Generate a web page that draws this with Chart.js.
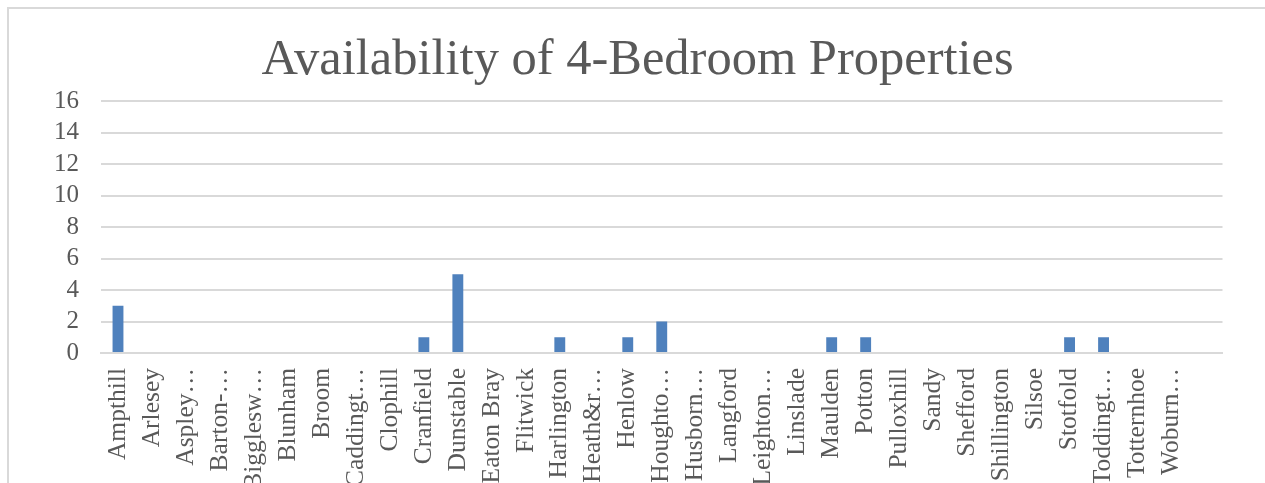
<!DOCTYPE html>
<html>
<head>
<meta charset="utf-8">
<title>Availability of 4-Bedroom Properties</title>
<script src="https://cdn.jsdelivr.net/npm/chart.js@4.4.0/dist/chart.umd.min.js"></script>
<style>
  body { margin: 0; overflow: hidden; background: #fff; }
  #frame { position: absolute; left: 7px; top: 7px; width: 1300px; height: 600px; border: 2px solid #d9d9d9; }
  canvas { display: block; }
</style>
</head>
<body>
<div id="frame"><canvas id="myChart" width="1256" height="560"></canvas></div>
<script>
// towns (long names cut short the way the axis shows them), last slot is a blank row
const towns = ['Ampthill', 'Arlesey', 'Aspley…', 'Barton-…', 'Bigglesw…', 'Blunham', 'Broom', 'Caddingt…',
  'Clophill', 'Cranfield', 'Dunstable', 'Eaton Bray', 'Flitwick', 'Harlington', 'Heath&r…', 'Henlow',
  'Houghto…', 'Husborn…', 'Langford', 'Leighton…', 'Linslade', 'Maulden', 'Potton', 'Pulloxhill',
  'Sandy', 'Shefford', 'Shillington', 'Silsoe', 'Stotfold', 'Toddingt…', 'Totternhoe', 'Woburn…', ''];
const fourBed = [3, 0, 0, 0, 0, 0, 0, 0,
  0, 1, 5, 0, 0, 1, 0, 1,
  2, 0, 0, 0, 0, 1, 1, 0,
  0, 0, 0, 0, 1, 1, 0, 0, 0];
const yMin = 0, yMax = 16, yStep = 2;

const grey = '#595959';
const serif = "'Liberation Serif', 'Times New Roman', serif";

const data = {
  labels: towns,
  datasets: [{
    label: '4-Bedroom',
    data: fourBed,
    backgroundColor: '#4F81BD',
    barPercentage: 0.32,
    categoryPercentage: 1
  }]
};

const config = {
  type: 'bar',
  data,
  options: {
    responsive: false,
    animation: false,
    // left padding keeps the title centred over the whole frame
    layout: { padding: { left: 43.5, right: 42.5, top: 0, bottom: 0 } },
    plugins: {
      legend: { display: false },
      tooltip: { enabled: false },
      title: {
        display: true,
        text: 'Availability of 4-Bedroom Properties',
        color: grey,
        font: { family: serif, size: 50.5, weight: 'normal', lineHeight: 1.2 },
        padding: { top: 21, bottom: 10.4 }
      }
    },
    scales: {
      x: {
        grid: { display: false, drawTicks: false },
        border: { display: true, color: '#d9d9d9', width: 2 },
        ticks: {
          autoSkip: false,
          minRotation: 90,
          maxRotation: 90,
          padding: 15,
          color: grey,
          font: { family: serif, size: 25.5 }
        },
        afterFit(scale) { scale.height = 216; }
      },
      y: {
        min: yMin,
        max: yMax,
        grid: { color: '#d9d9d9', lineWidth: 2, drawTicks: false },
        border: { display: false },
        ticks: {
          stepSize: yStep,
          autoSkip: false,
          padding: 22,
          color: grey,
          font: { family: serif, size: 25 }
        },
        afterFit(scale) { scale.width = 48.5; }
      }
    }
  }
};

var myChart = new Chart(document.getElementById('myChart'), config);
</script>
</body>
</html>
